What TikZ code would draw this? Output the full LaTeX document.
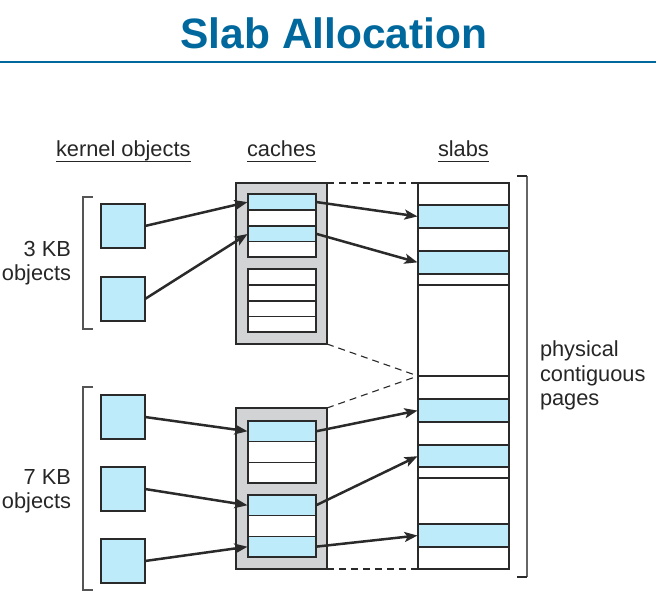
\documentclass[tikz,border=0pt]{standalone}
\usepackage{fontspec}
\setmainfont{Liberation Sans}
\usetikzlibrary{arrows.meta}
\definecolor{titleblue}{HTML}{00689D}
\definecolor{objblue}{HTML}{BDEBFA}
\definecolor{cachegray}{HTML}{D2D3D4}
\definecolor{edge}{HTML}{2A2A2A}
\tikzset{
  lbl/.style={font=\fontsize{21.8pt}{24pt}\selectfont, text=black!85, inner sep=0pt, outer sep=0pt},
  objbox/.style={draw=edge, line width=1.4pt, fill=objblue, minimum width=44pt, minimum height=44pt, inner sep=0pt, outer sep=0pt},
  cachebox/.style={draw=edge, line width=1.4pt, fill=cachegray, minimum width=91pt, minimum height=161pt, inner sep=0pt, outer sep=0pt},
  cell/.style={draw=edge, line width=1.4pt, fill=white, minimum width=68pt, inner sep=0pt, outer sep=0pt},
  fullcell/.style={cell, fill=objblue},
  slabcol/.style={draw=edge, line width=1.4pt, fill=white, minimum width=91pt, minimum height=386pt, inner sep=0pt, outer sep=0pt},
  srow/.style={draw=edge, line width=1.4pt, fill=white, minimum width=91pt, inner sep=0pt, outer sep=0pt},
  sfull/.style={srow, fill=objblue},
  ptr/.style={draw=edge, line width=2.5pt, -{Stealth[length=13pt,width=10pt,inset=3pt]}, shorten >=0.5pt},
  dashln/.style={draw=edge, line width=1.1pt, dash pattern=on 7pt off 5pt},
  brk/.style={draw=edge!80, line width=1.3pt},
}
\begin{document}
\begin{tikzpicture}[x=1pt,y=-1pt]
\useasboundingbox (0,0) rectangle (656,593);
% title
\node[font=\fontsize{42.5pt}{50pt}\selectfont\bfseries, text=titleblue, anchor=base, inner sep=0pt] (title) at (334,49) {Slab Allocation};
\coordinate (ruleL) at (0,62);
\coordinate (ruleR) at (656,62);
\draw[titleblue, line width=2.5pt] (ruleL) -- (ruleR);

% headers
\node[lbl, anchor=base west] (hk) at (56,157) {kernel objects};
\node[lbl, anchor=base west] (hc) at (247,157) {caches};
\node[lbl, anchor=base west] (hs) at (438,157) {slabs};
\foreach \h in {hk,hc,hs}{
  \draw[black!85, line width=1pt] ([yshift=-5pt]\h.base west) -- ([yshift=-5pt]\h.base east);
}

% side labels
\node[lbl, anchor=base east] (l3a) at (71,257) {3 KB};
\node[lbl, anchor=base east] (l3b) at (71,281) {objects};
\node[lbl, anchor=base east] (l7a) at (71,484) {7 KB};
\node[lbl, anchor=base east] (l7b) at (71,508) {objects};
\node[lbl, anchor=base west] (p1) at (540,357) {physical};
\node[lbl, anchor=base west] (p2) at (540,382) {contiguous};
\node[lbl, anchor=base west] (p3) at (540,406) {pages};

% brackets
\coordinate (b3t) at (93,197); \coordinate (b3u) at (83,197);
\coordinate (b3v) at (83,329); \coordinate (b3b) at (93,329);
\draw[brk] (b3t) -- (b3u) -- (b3v) -- (b3b);
\coordinate (b7t) at (93,387); \coordinate (b7u) at (83,387);
\coordinate (b7v) at (83,590); \coordinate (b7b) at (93,590);
\draw[brk] (b7t) -- (b7u) -- (b7v) -- (b7b);
\coordinate (brt) at (517,176); \coordinate (bru) at (527,176);
\coordinate (brv) at (527,577); \coordinate (brb) at (517,577);
\draw[black!60, line width=1.8pt] (bru) -- (brv);
\draw[edge, line width=1.3pt] (brt) -- (bru);
\draw[edge, line width=1.3pt] (brv) -- (brb);

% kernel objects
\node[objbox] (o1) at (123,226) {};
\node[objbox] (o2) at (123,299) {};
\node[objbox] (o3) at (123,417) {};
\node[objbox] (o4) at (123,489) {};
\node[objbox] (o5) at (123,561) {};

% cache 1
\node[cachebox] (cache1) at (281.5,263.5) {};
\node[fullcell, minimum height=16pt] (a1) at (282,202) {};
\node[cell, minimum height=16pt] (a2) at (282,218) {};
\node[fullcell, minimum height=15.5pt] (a3) at (282,233.75) {};
\node[cell, minimum height=15.5pt] (a4) at (282,249.25) {};
\node[cell, minimum height=16pt] (b1) at (282,277) {};
\node[cell, minimum height=16pt] (b2) at (282,293) {};
\node[cell, minimum height=15.5pt] (b3) at (282,308.75) {};
\node[cell, minimum height=15.5pt] (b4) at (282,324.25) {};

% cache 2
\node[cachebox] (cache2) at (281.5,488.5) {};
\node[fullcell, minimum height=20.67pt] (c1) at (282,431.33) {};
\node[cell, minimum height=20.67pt] (c2) at (282,452) {};
\node[cell, minimum height=20.67pt] (c3) at (282,472.67) {};
\node[fullcell, minimum height=20.67pt] (d1) at (282,505.33) {};
\node[cell, minimum height=20.67pt] (d2) at (282,526) {};
\node[fullcell, minimum height=20.67pt] (d3) at (282,546.67) {};

% slabs column
\node[slabcol] (slabs) at (463.5,376) {};
\node[srow, minimum height=22pt] (s1) at (463.5,194) {};
\node[sfull, minimum height=23pt] (s2) at (463.5,216.5) {};
\node[srow, minimum height=23pt] (s3) at (463.5,239.5) {};
\node[sfull, minimum height=23pt] (s4) at (463.5,262.5) {};
\node[srow, minimum height=11pt] (s5) at (463.5,279.5) {};
\node[srow, minimum height=91pt] (s6) at (463.5,330.5) {};
\node[srow, minimum height=23pt] (s7) at (463.5,387.5) {};
\node[sfull, minimum height=23pt] (s8) at (463.5,410.5) {};
\node[srow, minimum height=23pt] (s9) at (463.5,433.5) {};
\node[sfull, minimum height=22pt] (s10) at (463.5,456) {};
\node[srow, minimum height=11pt] (s11) at (463.5,472.5) {};
\node[srow, minimum height=46pt] (s12) at (463.5,501) {};
\node[sfull, minimum height=23pt] (s13) at (463.5,535.5) {};
\node[srow, minimum height=22pt] (s14) at (463.5,558) {};

% dashed correspondences
\coordinate (mid) at (418,376);
\draw[dashln] (cache1.north east) -- (slabs.north west);
\draw[dashln] (cache1.south east) -- (mid);
\draw[dashln] (cache2.north east) -- (mid);
\draw[dashln] (cache2.south east) -- (slabs.south west);

% pointers
\draw[ptr] (o1.east) -- (a1.west);
\draw[ptr] (o2.east) -- (a3.west);
\draw[ptr] (a1.east) -- (s2.west);
\draw[ptr] (a3.east) -- (s4.west);
\draw[ptr] (o3.east) -- (c1.west);
\draw[ptr] (o4.east) -- (d1.west);
\draw[ptr] (o5.east) -- (d3.west);
\draw[ptr] (c1.east) -- (s8.west);
\draw[ptr] (d1.east) -- (s10.west);
\draw[ptr] (d3.east) -- (s13.west);
\end{tikzpicture}
\end{document}
